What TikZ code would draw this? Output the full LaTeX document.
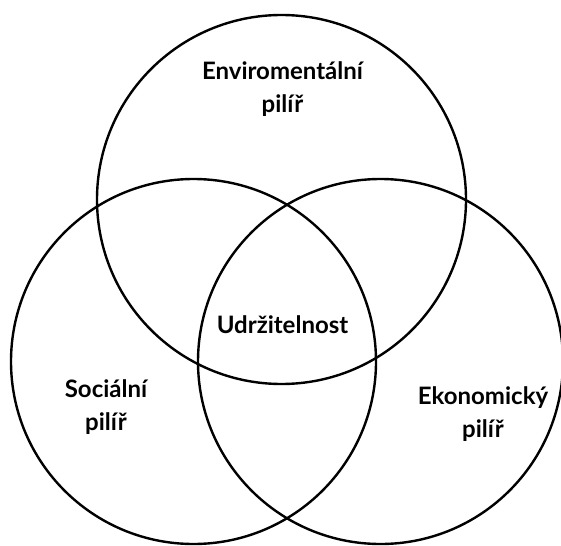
\documentclass[tikz,border=0pt]{standalone}
\usepackage{fontspec}
\setmainfont{Lato}
\begin{document}
\begin{tikzpicture}[x=1pt,y=-1pt,
  ring/.style={draw=black,line width=2.4pt},
  lbl/.style={font=\fontsize{24}{33}\selectfont\bfseries,align=center,inner sep=0pt,anchor=base}]
\useasboundingbox (0,0) rectangle (561,545);
\draw[ring] (281.5,199.5) circle[radius=184.5];
\draw[ring] (193.5,361.5) circle[radius=182.5];
\draw[ring] (380.5,361.5) circle[radius=182.5];
\node[lbl] (env) at (282.5,113) {Enviromentální\\pilíř};
\node[lbl] (udr) at (282.5,333) {Udržitelnost};
\node[lbl] (soc) at (106,430) {Sociální\\pilíř};
\node[lbl] (eko) at (483,437) {Ekonomický\\pilíř};
\end{tikzpicture}
\end{document}
